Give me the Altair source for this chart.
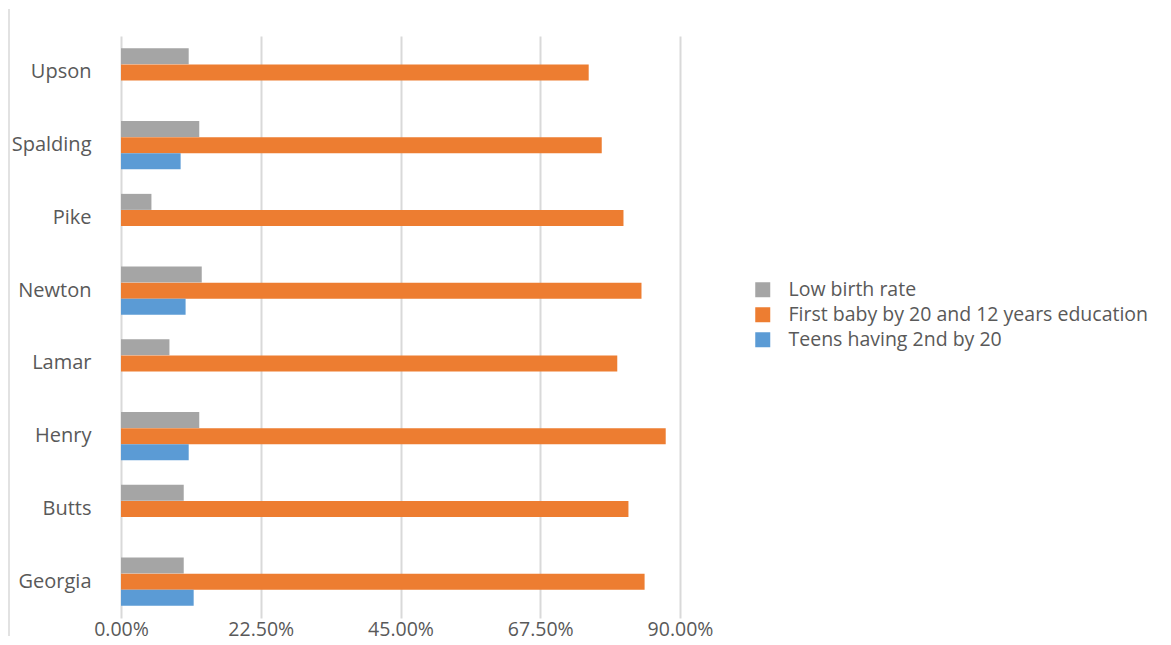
import altair as alt
import pandas as pd

counties = ["Upson", "Spalding", "Pike", "Newton", "Lamar", "Henry", "Butts", "Georgia"]
series = ["Low birth rate", "First baby by 20 and 12 years education", "Teens having 2nd by 20"]
colors = ["#A5A5A5", "#ED7D31", "#5B9BD5"]

low_birth = [0.109, 0.126, 0.049, 0.130, 0.078, 0.126, 0.101, 0.101]
first_baby = [0.753, 0.774, 0.809, 0.838, 0.799, 0.877, 0.817, 0.843]
teens_2nd = [None, 0.096, None, 0.104, None, 0.109, None, 0.117]

tick_vals = [0, 0.225, 0.45, 0.675, 0.9]

rows = []
for vals, name in zip([low_birth, first_baby, teens_2nd], series):
    for c, v in zip(counties, vals):
        if v is not None:
            rows.append({"county": c, "series": name, "value": v})
df = pd.DataFrame(rows)

FONT = "Open Sans"
TEXT = "#595959"
FS = 20

bars = alt.Chart(df).mark_bar(size=16).encode(
    x=alt.X("value:Q",
            scale=alt.Scale(domain=[0, 0.9], nice=False, zero=True),
            axis=alt.Axis(values=tick_vals, format=".2%", title=None, domain=False, ticks=False,
                          grid=True, gridColor="#D9D9D9", gridWidth=2,
                          labelFontSize=19.5, labelColor=TEXT, labelFont=FONT, labelPadding=2,
                          labelFlush=False)),
    y=alt.Y("county:N", sort=counties,
            scale=alt.Scale(paddingInner=0.34, paddingOuter=0.17),
            axis=alt.Axis(title=None, domain=False, ticks=False, grid=False,
                          labelFontSize=FS, labelColor=TEXT, labelFont=FONT, labelPadding=30)),
    yOffset=alt.YOffset("series:N", sort=series, scale=alt.Scale(domain=series, paddingInner=0, paddingOuter=0)),
    color=alt.Color("series:N", sort=series,
                    scale=alt.Scale(domain=series, range=colors),
                    legend=alt.Legend(title=None, orient="none", legendX=632, legendY=244,
                                      symbolType="square", symbolSize=225, symbolStrokeWidth=0,
                                      labelFontSize=19.5, labelColor=TEXT, labelFont=FONT,
                                      labelOffset=16, rowPadding=4, padding=0,
                                      labelLimit=600)),
)

border = alt.Chart(pd.DataFrame({"a": [0]})).mark_rule(color="#D9D9D9", strokeWidth=1.5).encode(
    x=alt.value(-112), y=alt.value(-27), y2=alt.value(600)
)

chart = alt.layer(border, bars).properties(
    width=559, height=582, padding=0, background="white"
).configure_view(stroke=None)

chart.save("out.html", embed_options={"renderer": "svg", "actions": False})
